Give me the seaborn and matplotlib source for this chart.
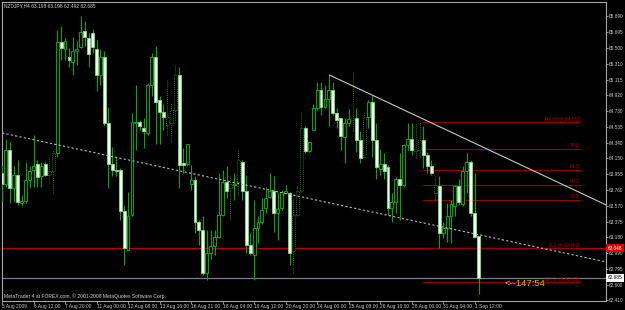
import matplotlib
matplotlib.use("Agg")
import matplotlib.pyplot as plt
import matplotlib.transforms as mtransforms
import seaborn as sns
import pandas as pd

# ---------------- data (NZDJPY, H4) ----------------
OPEN = [63.97, 63.84, 64.25, 63.78, 63.95, 63.60, 63.63, 63.88, 64.01, 64.08,
        63.93, 64.08, 63.95, 63.99, 64.21, 65.58, 65.49, 65.39, 65.33, 65.46,
        65.51, 65.71, 65.62, 65.69, 65.49, 65.17, 65.39, 64.58, 64.08, 64.01,
        64.01, 63.50, 63.03, 63.46, 64.58, 64.60, 64.52, 64.46, 65.05, 65.39,
        64.86, 64.72, 64.56, 64.58, 64.74, 65.17, 64.09, 64.08, 63.84, 63.88,
        63.37, 63.27, 62.74, 62.99, 63.07, 63.19, 63.46, 63.86, 63.78, 63.82,
        63.86, 64.10, 63.75, 63.09, 62.96, 63.29, 63.37, 63.54, 63.68, 63.75,
        63.48, 63.54, 63.73, 63.72, 63.01, 63.46, 63.75, 64.52, 64.24, 64.50,
        64.76, 64.99, 64.78, 64.88, 64.99, 64.70, 64.64, 64.41, 64.58, 64.62,
        64.64, 64.38, 64.17, 64.66, 64.84, 64.37, 64.02, 64.08, 64.04, 63.54,
        63.61, 63.90, 63.82, 64.31, 64.39, 64.24, 64.25, 64.37, 64.19, 64.06,
        63.73, 63.81, 63.24, 63.29, 63.44, 63.57, 63.81, 63.59, 63.99, 64.11,
        63.48, 63.198]
HIGH = [64.05, 64.39, 64.35, 64.05, 64.13, 63.70, 64.11, 64.05, 64.44, 64.13,
        64.11, 64.11, 64.15, 64.25, 65.72, 65.77, 65.62, 65.50, 65.63, 65.59,
        65.89, 65.83, 65.68, 65.73, 65.60, 65.49, 65.47, 64.78, 64.29, 64.17,
        64.03, 63.58, 63.74, 64.70, 65.05, 64.62, 64.64, 65.07, 65.44, 65.53,
        64.91, 64.82, 65.11, 64.84, 65.31, 65.27, 64.27, 64.33, 64.07, 63.93,
        63.39, 63.44, 63.27, 63.27, 63.27, 63.97, 64.01, 64.05, 63.95, 63.97,
        64.25, 64.13, 63.95, 63.23, 63.64, 63.44, 63.66, 63.80, 63.97, 63.93,
        63.74, 63.76, 63.82, 63.74, 63.66, 63.82, 64.72, 64.54, 64.35, 64.82,
        65.09, 65.09, 65.05, 65.17, 65.09, 64.76, 64.64, 64.64, 64.75, 65.21,
        64.76, 64.48, 64.72, 64.86, 64.93, 64.58, 64.26, 64.22, 64.07, 63.72,
        63.92, 64.21, 64.33, 64.58, 64.58, 64.58, 64.60, 64.54, 64.23, 64.13,
        63.95, 63.93, 63.37, 63.60, 63.64, 63.82, 63.90, 64.05, 64.21, 64.13,
        63.97, 63.198]
LOW = [63.63, 63.80, 63.60, 63.62, 63.58, 63.56, 63.60, 63.78, 63.80, 63.80,
       63.80, 63.93, 63.86, 63.72, 64.17, 65.35, 65.35, 65.27, 65.17, 65.29,
       65.50, 65.52, 65.27, 65.44, 64.97, 65.05, 64.54, 63.78, 63.93, 63.93,
       63.39, 62.84, 63.03, 63.44, 64.25, 64.50, 64.27, 64.44, 64.91, 64.33,
       64.33, 64.50, 64.44, 64.35, 64.62, 63.78, 63.97, 64.05, 63.76, 63.23,
       63.09, 62.72, 62.66, 62.92, 62.96, 63.17, 63.44, 63.66, 63.39, 63.64,
       63.70, 63.64, 62.99, 62.96, 62.66, 63.11, 63.35, 63.48, 63.66, 63.25,
       63.15, 63.52, 63.72, 62.84, 62.74, 63.44, 63.74, 64.21, 64.23, 64.50,
       64.74, 64.68, 64.76, 64.54, 64.68, 64.52, 64.25, 64.09, 64.54, 64.48,
       64.23, 64.09, 64.17, 64.52, 64.17, 63.90, 63.95, 63.90, 63.46, 63.37,
       63.48, 63.39, 63.80, 64.25, 64.19, 64.15, 64.17, 64.03, 63.97, 63.95,
       63.64, 63.05, 63.17, 63.13, 63.11, 63.44, 63.58, 63.56, 63.72, 63.44,
       63.19, 62.492]
CLOSE = [63.84, 64.25, 63.78, 63.95, 63.62, 63.63, 63.88, 63.99, 64.06, 63.92,
         64.05, 63.95, 63.99, 64.21, 65.57, 65.50, 65.59, 65.35, 65.46, 65.49,
         65.70, 65.63, 65.43, 65.51, 65.17, 65.39, 64.58, 64.08, 64.01, 63.99,
         63.50, 63.05, 63.44, 64.60, 64.60, 64.55, 64.48, 65.05, 65.39, 64.84,
         64.72, 64.66, 64.66, 64.74, 65.17, 64.07, 64.07, 64.33, 63.88, 63.37,
         63.27, 62.74, 62.99, 63.07, 63.19, 63.46, 63.86, 63.75, 63.84, 63.84,
         64.13, 63.75, 63.09, 62.99, 63.29, 63.37, 63.52, 63.66, 63.75, 63.48,
         63.53, 63.74, 63.75, 62.99, 63.46, 63.75, 64.52, 64.24, 64.35, 64.76,
         64.99, 64.78, 64.88, 64.99, 64.70, 64.62, 64.42, 64.58, 64.63, 64.64,
         64.38, 64.15, 64.66, 64.84, 64.37, 64.04, 64.08, 64.00, 63.54, 63.61,
         63.89, 63.82, 64.31, 64.39, 64.25, 64.26, 64.37, 64.19, 64.05, 63.97,
         63.82, 63.24, 63.29, 63.44, 63.59, 63.81, 63.62, 63.99, 64.11, 63.48,
         63.19, 62.685]
DOTTED = [12, 13, 42, 43, 44, 58, 60, 74, 75, 76, 89, 92, 105, 106, 110]

Y_TICKS = [65.890, 65.695, 65.500, 65.310, 65.115, 64.920, 64.730, 64.535,
           64.340, 64.150, 63.955, 63.760, 63.570, 63.375, 63.180, 62.990,
           62.795, 62.600, 62.410]
X_TICK_POS = [0, 8, 16, 24, 32, 40, 48, 56, 64, 72, 80, 88, 96, 104, 112, 120]
X_TICK_LABELS = ["5 Aug 2009", "6 Aug 12:00", "7 Aug 20:00", "11 Aug 00:00",
                 "12 Aug 08:00", "13 Aug 16:00", "16 Aug 21:00", "18 Aug 04:00",
                 "19 Aug 12:00", "20 Aug 20:00", "24 Aug 00:00", "25 Aug 08:00",
                 "26 Aug 16:00", "28 Aug 00:00", "31 Aug 04:00", "1 Sep 12:00"]

TREND_SOLID_X = [83.1, 153.4]
TREND_SOLID_Y = [65.171, 63.578]
TREND_DOT_X = [0.0, 153.4]
TREND_DOT_Y = [64.460, 62.880]

FIB_X = [106.9, 146.8]
FIB_LEVELS = [64.592, 64.261, 64.002, 63.820, 63.637, 63.048, 62.628]
FIB_LABELS = ["100.0 @ 64.592", "78.6", "61.8", "50.0", "38.2",
              "0.0 @ 63.048", "127.2 @ 62.628"]

RED_LINE = 63.048
BID_LINE = 62.685
TIMER_TEXT = "<--147:54"
HEADER = "NZDJPY,H4 63.198 63.198 62.492 62.685"
COPYRIGHT = "MetaTrader 4 at FOREX.com, \u00a9 2001-2008 MetaQuotes Software Corp."

# ---------------- style ----------------
sns.set_style("dark", {"axes.facecolor": "black", "figure.facecolor": "black"})
plt.rcParams["font.family"] = ["Liberation Sans", "DejaVu Sans"]

fig = plt.figure(figsize=(6.25, 3.10), dpi=100, facecolor="black")
ax = fig.add_axes([2 / 625, 9 / 310, 604 / 625, 299 / 310])
ax.set_facecolor("black")
ax.grid(False)

df = pd.DataFrame({"o": OPEN, "h": HIGH, "l": LOW, "c": CLOSE})
df["x"] = range(len(df))
df["dotted"] = df["x"].isin(DOTTED)

WICK = "#00ac00"
BODY_W = 0.74

for _, r in df.iterrows():
    ls = (0, (1, 1)) if r["dotted"] else "-"
    wcol = "#1e6e1e" if r["dotted"] else WICK
    ax.vlines(r["x"], r["l"], r["h"], color=wcol, lw=0.75, linestyles=ls, zorder=3)
    lo = min(r["o"], r["c"])
    hgt = max(abs(r["c"] - r["o"]), 0.006)
    if r["c"] >= r["o"]:
        ax.bar(r["x"], hgt, bottom=lo, width=BODY_W, color="black",
               edgecolor=wcol, linewidth=0.7, linestyle=ls, zorder=4)
    else:
        ax.bar(r["x"], hgt, bottom=lo, width=BODY_W, color="#f4fff4",
               edgecolor="#7ee07e", linewidth=0.6, zorder=4)

# trend lines
sns.lineplot(x=TREND_DOT_X, y=TREND_DOT_Y, ax=ax, color="#b8b8b8", lw=0.8,
             linestyle=(0, (2, 2)), zorder=5)
sns.lineplot(x=TREND_SOLID_X, y=TREND_SOLID_Y, ax=ax, color="#c8c8c8", lw=0.8,
             zorder=5)

# horizontal lines
ax.axhline(RED_LINE, color="#c00000", lw=0.9, zorder=2)
ax.axhline(BID_LINE, color="#6f7f8f", lw=0.9, zorder=2)

# fibonacci
for lev, lab in zip(FIB_LEVELS, FIB_LABELS):
    ax.plot(FIB_X, [lev, lev], color="#9a0000", lw=0.8, zorder=2)
    ax.text(FIB_X[1], lev + 0.012, lab, color="#b40000", fontsize=3.7,
            ha="right", va="bottom", zorder=6)

# timer text
ax.text(127.6, 62.616, TIMER_TEXT, color="#c4c400", fontsize=6.8,
        ha="left", va="center", zorder=6)

# axes
ax.set_xlim(0.05, 153.35)
ax.set_ylim(62.401, 66.065)
ax.yaxis.tick_right()
ax.set_yticks(Y_TICKS)
ax.set_yticklabels([f"{v:.3f}" for v in Y_TICKS])
ax.set_xticks(X_TICK_POS)
ax.set_xticklabels(X_TICK_LABELS, ha="left")
ax.tick_params(axis="y", right=True, left=False, length=1.6, width=0.6,
               color="#a0a0a0", labelsize=3.4, labelcolor="#c8c8c8", pad=0.6)
ax.tick_params(axis="x", bottom=True, length=2, width=0.6, color="#a0a0a0",
               labelsize=3.5, labelcolor="#c8c8c8", pad=0.5)
for s in ax.spines.values():
    s.set_color("#a8a8a8")
    s.set_linewidth(0.8)
ax.set_xlabel("")
ax.set_ylabel("")

# price boxes on the right axis
trans = mtransforms.blended_transform_factory(ax.transAxes, ax.transData)
ax.text(1.003, RED_LINE, f"{RED_LINE:.3f}", transform=trans, fontsize=3.4,
        color="white", ha="left", va="center", zorder=7, clip_on=False,
        bbox=dict(facecolor="#e00000", edgecolor="none", pad=1.0))
ax.text(1.003, BID_LINE, f"{BID_LINE:.3f}", transform=trans, fontsize=3.4,
        color="black", ha="left", va="center", zorder=7, clip_on=False,
        bbox=dict(facecolor="white", edgecolor="none", pad=1.0))

fig.text(4 / 625, 1 - 6 / 310, HEADER, color="#d0d0d0", fontsize=3.5,
         ha="left", va="center")
fig.text(4 / 625, 1 - 296 / 310, COPYRIGHT, color="#d0d0d0", fontsize=3.6,
         ha="left", va="center")

fig.savefig("out.png", dpi=100, facecolor="black")
